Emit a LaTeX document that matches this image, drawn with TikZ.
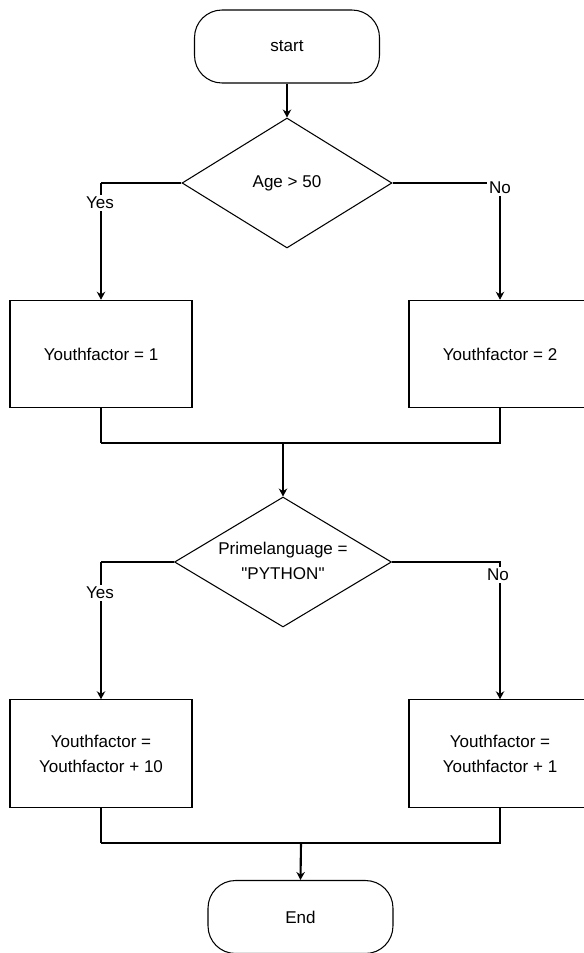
\documentclass[tikz,border=0pt]{standalone}
\usepackage{fontspec}
\setmainfont{Liberation Sans}[Ligatures=TeXOff]
\usetikzlibrary{shapes.geometric,arrows.meta}

\tikzset{
  terminal/.style={draw, rectangle, rounded corners=0.55cm, minimum width=3.7cm, minimum height=1.46cm, inner sep=0pt},
  decision/.style={draw, diamond, inner sep=0pt, minimum height=2.6cm},
  process/.style={draw, rectangle, minimum width=3.64cm, minimum height=2.15cm, align=center, inner sep=0pt},
  answer/.style={fill=white, inner sep=1pt},
  heavy/.style={line width=1.2pt}
}

\begin{document}
\begin{tikzpicture}[x=0.02cm, y=-0.02cm, >={Stealth[length=1.6mm,width=1.7mm]}, line width=0.6pt, font=\fontsize{9.7}{14.2}\selectfont]
  \useasboundingbox (0,0) rectangle (584,953);

  \node[terminal] (start) at (287,46.5) {start};
  \node[decision, minimum width=4.2cm] (age) at (287,183) {Age > 50};
  \node[process] (one) at (101,354) {Youthfactor = 1};
  \node[process] (two) at (500,354) {Youthfactor = 2};
  \coordinate (join1) at (283,443);
  \node[decision, minimum width=4.34cm] (lang) at (283,562)
    {\makebox[0pt]{\begin{tabular}{@{}c@{}}Primelanguage =\\"PYTHON"\end{tabular}}};
  \node[process] (ten) at (101,753.5) {Youthfactor =\\Youthfactor + 10};
  \node[process] (plusone) at (500,753.5) {Youthfactor =\\Youthfactor + 1};
  \coordinate (join2) at (301,843);
  \node[terminal] (end) at (300.5,917) {End};

  % first test
  \draw[->] (start.south) -- (age.north);
  \coordinate (ageyes) at (age.west -| one.north);
  \draw (age.west) -- (ageyes);
  \draw[heavy,->] (ageyes) -- (one.north);
  \draw[->] (age.east) -| (two.north);
  \node[answer] (yes1) at (100,203) {Yes};
  \node[answer] (no1) at (500,188) {No};

  \coordinate (oneleg) at (one.south |- join1);
  \draw[heavy] (one.south) -- (oneleg);
  \draw (oneleg) -- (join1) -| (two.south);
  \draw[->] (join1) -- (lang.north);

  % second test
  \coordinate (langyes) at (lang.west -| ten.north);
  \draw (lang.west) -- (langyes);
  \draw[heavy,->] (langyes) -- (ten.north);
  \draw[->] (lang.east) -| (plusone.north);
  \node[answer] (yes2) at (100,593) {Yes};
  \node[answer] (no2) at (498,575) {No};

  \coordinate (tenleg) at (ten.south |- join2);
  \draw[heavy] (ten.south) -- (tenleg);
  \draw (tenleg) -- (join2) -| (plusone.south);
  \draw[heavy,->] (join2) -- (end.north);
\end{tikzpicture}
\end{document}
